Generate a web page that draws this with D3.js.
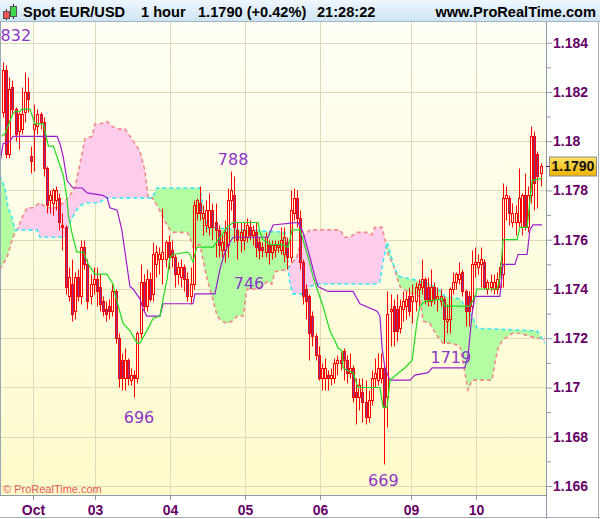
<!DOCTYPE html>
<html>
<head>
<meta charset="utf-8">
<script src="https://cdn.jsdelivr.net/npm/d3@7"></script>
<style>
html, body { margin: 0; padding: 0; background: #fff; }
svg { display: block; }
</style>
</head>
<body>
<svg id="chart" width="600" height="519"></svg>
<script>
// header texts
const titleParts = ['Spot EUR/USD', '1 hour', '1.1790 (+0.42%)', '21:28:22']
const siteName = 'www.ProRealTime.com'
const copyright = '\u00a9 ProRealTime.com'

// hourly candles, EUR/USD
const open = [1.1812,1.1829,1.1795,1.1822,1.1813,1.1804,1.1805,1.1812,1.1820,1.1794,
  1.1805,1.1806,1.1811,1.1808,1.1789,1.1776,1.1775,1.1776,1.1777,1.1766,
  1.1765,1.1737,1.1742,1.1731,1.1745,1.1737,1.1757,1.1750,1.1737,1.1742,
  1.1744,1.1741,1.1735,1.1732,1.1733,1.1731,1.1739,1.1720,1.1711,1.1704,
  1.1711,1.1703,1.1705,1.1704,1.1722,1.1743,1.1733,1.1744,1.1738,1.1750,
  1.1752,1.1752,1.1752,1.1759,1.1756,1.1753,1.1746,1.1745,1.1749,1.1744,
  1.1737,1.1742,1.1771,1.1775,1.1769,1.1766,1.1765,1.1772,1.1767,1.1764,
  1.1756,1.1756,1.1758,1.1776,1.1778,1.1764,1.1760,1.1760,1.1761,1.1765,
  1.1762,1.1763,1.1759,1.1757,1.1755,1.1758,1.1755,1.1756,1.1757,1.1756,
  1.1754,1.1759,1.1753,1.1771,1.1777,1.1769,1.1751,1.1740,1.1737,1.1729,
  1.1721,1.1713,1.1704,1.1704,1.1705,1.1704,1.1704,1.1710,1.1711,1.1715,
  1.1711,1.1706,1.1708,1.1698,1.1696,1.1698,1.1694,1.1688,1.1695,1.1704,
  1.1703,1.1704,1.1708,1.1696,1.1731,1.1733,1.1732,1.1724,1.1732,1.1733,
  1.1737,1.1735,1.1735,1.1740,1.1741,1.1744,1.1741,1.1735,1.1741,1.1736,
  1.1735,1.1736,1.1727,1.1728,1.1740,1.1743,1.1744,1.1747,1.1739,1.1737,
  1.1733,1.1750,1.1749,1.1750,1.1751,1.1740,1.1741,1.1740,1.1740,1.1741,
  1.1746,1.1777,1.1777,1.1767,1.1767,1.1767,1.1765,1.1778,1.1765,1.1778,
  1.1802,1.1795,1.1787]
const high = [1.1832,1.1831,1.1826,1.1825,1.1814,1.1812,1.1822,1.1828,1.1826,1.1798,
  1.1815,1.1813,1.1812,1.1810,1.1790,1.1780,1.1781,1.1782,1.1779,1.1771,
  1.1766,1.1749,1.1752,1.1747,1.1748,1.1760,1.1760,1.1752,1.1746,1.1749,
  1.1749,1.1746,1.1737,1.1735,1.1736,1.1742,1.1740,1.1722,1.1714,1.1716,
  1.1712,1.1708,1.1707,1.1723,1.1750,1.1746,1.1748,1.1747,1.1759,1.1758,
  1.1757,1.1773,1.1760,1.1762,1.1760,1.1754,1.1751,1.1752,1.1750,1.1747,
  1.1749,1.1776,1.1777,1.1782,1.1774,1.1776,1.1779,1.1775,1.1775,1.1766,
  1.1762,1.1768,1.1781,1.1788,1.1786,1.1767,1.1767,1.1767,1.1769,1.1768,
  1.1766,1.1767,1.1761,1.1759,1.1763,1.1760,1.1760,1.1760,1.1760,1.1765,
  1.1765,1.1761,1.1780,1.1781,1.1780,1.1772,1.1752,1.1742,1.1738,1.1731,
  1.1722,1.1717,1.1710,1.1712,1.1707,1.1708,1.1712,1.1713,1.1715,1.1716,
  1.1713,1.1714,1.1709,1.1704,1.1704,1.1704,1.1703,1.1699,1.1707,1.1712,
  1.1714,1.1714,1.1710,1.1739,1.1738,1.1736,1.1738,1.1736,1.1739,1.1739,
  1.1741,1.1742,1.1743,1.1744,1.1752,1.1745,1.1745,1.1748,1.1743,1.1741,
  1.1740,1.1737,1.1734,1.1741,1.1747,1.1747,1.1751,1.1748,1.1740,1.1739,
  1.1756,1.1757,1.1754,1.1757,1.1752,1.1744,1.1746,1.1746,1.1747,1.1751,
  1.1783,1.1782,1.1778,1.1775,1.1774,1.1789,1.1779,1.1787,1.1782,1.1806,
  1.1804,1.1796,1.1791]
const low = [1.1810,1.1793,1.1793,1.1811,1.1800,1.1797,1.1803,1.1808,1.1812,1.1787,
  1.1788,1.1803,1.1805,1.1786,1.1771,1.1771,1.1770,1.1772,1.1764,1.1756,
  1.1738,1.1735,1.1727,1.1728,1.1735,1.1734,1.1748,1.1732,1.1734,1.1738,
  1.1733,1.1731,1.1729,1.1727,1.1728,1.1729,1.1718,1.1700,1.1699,1.1699,
  1.1701,1.1701,1.1696,1.1702,1.1720,1.1731,1.1731,1.1735,1.1735,1.1745,
  1.1746,1.1742,1.1749,1.1748,1.1749,1.1741,1.1742,1.1741,1.1739,1.1735,
  1.1734,1.1740,1.1768,1.1768,1.1762,1.1763,1.1762,1.1760,1.1753,1.1753,
  1.1753,1.1751,1.1753,1.1772,1.1759,1.1752,1.1755,1.1756,1.1759,1.1760,
  1.1758,1.1753,1.1752,1.1753,1.1753,1.1750,1.1752,1.1753,1.1755,1.1754,
  1.1751,1.1748,1.1751,1.1768,1.1765,1.1748,1.1734,1.1728,1.1711,1.1717,
  1.1711,1.1703,1.1699,1.1699,1.1699,1.1701,1.1702,1.1705,1.1707,1.1703,
  1.1702,1.1704,1.1694,1.1685,1.1691,1.1686,1.1685,1.1686,1.1693,1.1700,
  1.1701,1.1702,1.1669,1.1684,1.1717,1.1717,1.1719,1.1722,1.1727,1.1728,
  1.1729,1.1726,1.1731,1.1733,1.1738,1.1734,1.1733,1.1733,1.1734,1.1731,
  1.1733,1.1718,1.1722,1.1722,1.1738,1.1740,1.1742,1.1737,1.1725,1.1725,
  1.1731,1.1745,1.1746,1.1741,1.1740,1.1738,1.1739,1.1738,1.1738,1.1739,
  1.1741,1.1768,1.1766,1.1765,1.1762,1.1765,1.1762,1.1764,1.1763,1.1775,
  1.1772,1.1773,1.1782]
const close = [1.1829,1.1795,1.1821,1.1813,1.1803,1.1811,1.1811,1.1820,1.1817,1.1792,
  1.1807,1.1811,1.1808,1.1789,1.1774,1.1778,1.1780,1.1780,1.1767,1.1765,
  1.1741,1.1745,1.1730,1.1745,1.1737,1.1757,1.1750,1.1735,1.1742,1.1744,
  1.1739,1.1734,1.1731,1.1730,1.1731,1.1739,1.1720,1.1704,1.1704,1.1711,
  1.1704,1.1705,1.1704,1.1722,1.1743,1.1733,1.1744,1.1736,1.1754,1.1755,
  1.1754,1.1755,1.1759,1.1753,1.1753,1.1746,1.1749,1.1749,1.1744,1.1737,
  1.1742,1.1774,1.1776,1.1771,1.1771,1.1772,1.1772,1.1765,1.1764,1.1758,
  1.1759,1.1763,1.1776,1.1780,1.1765,1.1760,1.1763,1.1764,1.1766,1.1762,
  1.1764,1.1757,1.1756,1.1756,1.1761,1.1755,1.1758,1.1758,1.1758,1.1760,
  1.1761,1.1753,1.1772,1.1777,1.1769,1.1751,1.1737,1.1735,1.1722,1.1721,
  1.1713,1.1704,1.1708,1.1708,1.1704,1.1705,1.1710,1.1711,1.1710,1.1711,
  1.1706,1.1708,1.1696,1.1696,1.1701,1.1694,1.1688,1.1695,1.1704,1.1706,
  1.1708,1.1708,1.1692,1.1730,1.1732,1.1723,1.1723,1.1733,1.1735,1.1736,
  1.1731,1.1737,1.1741,1.1742,1.1744,1.1736,1.1735,1.1741,1.1736,1.1737,
  1.1737,1.1728,1.1728,1.1740,1.1743,1.1746,1.1746,1.1739,1.1731,1.1731,
  1.1750,1.1751,1.1751,1.1752,1.1741,1.1743,1.1743,1.1743,1.1744,1.1749,
  1.1777,1.1778,1.1771,1.1771,1.1771,1.1777,1.1778,1.1765,1.1778,1.1802,
  1.1783,1.1786,1.1790]

// ichimoku lines: [candle index, price]
const tenkan = [[-0.4,1.1802],[0.6,1.1803],[3.1,1.1811],[3.8,1.1812],[5.4,1.1812],[6,1.1813],[8.6,1.1813],
  [10.2,1.1807],[12.9,1.1807],[14.5,1.1798],[16.1,1.1798],[17.7,1.1792],[19.3,1.1786],[20.4,1.1777],
  [20.9,1.1770],[22,1.1763],[23.6,1.1755],[25.7,1.1755],[27.3,1.1750],[29.4,1.1746],[33.2,1.1746],
  [35.2,1.1742],[35.8,1.1738],[38.4,1.1726],[40.6,1.1723],[42.9,1.1718],[43.8,1.1718],[46,1.1723],
  [48,1.1728],[50.2,1.1729],[51.2,1.1736],[52.5,1.1744],[53.4,1.1753],[54.4,1.1754],[58.9,1.1755],
  [59.8,1.1754],[60.8,1.1751],[62,1.1757],[67.2,1.1757],[69.4,1.1761],[71.7,1.1765],[73.6,1.1767],
  [81.6,1.1767],[82.2,1.1763],[83.2,1.1760],[85.4,1.1758],[89.3,1.1758],[91.2,1.1757],[92.5,1.1764],
  [95,1.1764],[96,1.1760],[97.6,1.1753],[99.2,1.1745],[100.5,1.1740],[102.4,1.1733],[104.6,1.1723],
  [106.2,1.1719],[107.2,1.1716],[108.5,1.1715],[108.8,1.1708],[110,1.1707],[112,1.1706],[113.6,1.1700],
  [120.6,1.1700],[121.6,1.1692],[122.9,1.1692],[123.8,1.1703],[128.6,1.1708],[130.9,1.1711],
  [132.5,1.1727],[133.4,1.1733],[135,1.1735],[140.5,1.1736],[141.4,1.1733],[149.4,1.1733],
  [151,1.1737],[151.7,1.1740],[158.1,1.1740],[159,1.1744],[160,1.1760],[164.5,1.1760],[165.4,1.1765],
  [167.7,1.1765],[169.3,1.1784],[172.5,1.1785]]
const kijun = [[-1,1.1791],[0,1.1799],[2.2,1.1800],[3.2,1.1802],[17.3,1.1802],[18.2,1.1799],[19.2,1.1794],
  [20.5,1.1784],[22.4,1.1781],[25.3,1.1781],[26.9,1.1779],[32,1.1778],[33.3,1.1777],[34.2,1.1773],
  [36.5,1.1772],[38,1.1764],[39.7,1.1749],[40.6,1.1741],[41.6,1.1740],[43.8,1.1736],[44.8,1.1732],
  [46,1.1729],[50.2,1.1729],[51.2,1.1734],[60.8,1.1734],[61.4,1.1738],[67.8,1.1738],[69.4,1.1748],
  [71,1.1755],[72.6,1.1759],[73.6,1.1761],[84.8,1.1761],[86.4,1.1766],[94.4,1.1767],[96,1.1763],
  [98.2,1.1753],[99.8,1.1745],[100.8,1.1741],[104,1.1739],[112,1.1739],[114.2,1.1734],[119.7,1.1731],
  [120.6,1.1729],[121.3,1.1716],[122.2,1.1708],[123.8,1.1703],[130.2,1.1703],[131.8,1.1705],
  [136,1.1706],[137.3,1.1708],[147.8,1.1708],[148.8,1.1713],[150.1,1.1730],[151,1.1737],[159,1.1737],
  [160,1.1750],[163.8,1.1750],[164.8,1.1754],[167.7,1.1754],[168.6,1.1764],[169.6,1.1766],[172.5,1.1766]]
const spanA = [[-1,1.1786],[0.6,1.1781],[1.6,1.1773],[2.9,1.1769],[3.8,1.1764],[10.9,1.1764],[11.8,1.1761],
  [19.8,1.1761],[20.8,1.1765],[22.1,1.1769],[24,1.1773],[26.2,1.1775],[31,1.1775],[32.6,1.1777],
  [47.7,1.1777],[49.3,1.1781],[63,1.1781],[64,1.1773],[65.3,1.1765],[90.2,1.1763],[91.2,1.1750],
  [91.8,1.1742],[92.8,1.1738],[96,1.1738],[98.2,1.1741],[100.5,1.1742],[119.7,1.1742],[120.6,1.1743],
  [121.6,1.1751],[122.9,1.1759],[124.5,1.1752],[125.4,1.1748],[127,1.1745],[130.9,1.1744],
  [133.4,1.1743],[136.6,1.1742],[139.2,1.1740],[141.4,1.1737],[146.2,1.1736],[147.8,1.1733],
  [150.1,1.1729],[151.7,1.1724],[170.9,1.1723],[173.4,1.1718]]
const spanB = [[-1,1.1748],[1.3,1.1753],[2.9,1.1760],[3.8,1.1763],[4.5,1.1764],[6.1,1.1769],[7.7,1.1773],
  [9.6,1.1773],[11.8,1.1775],[12.8,1.1774],[14.1,1.1773],[17.6,1.1773],[20.8,1.1777],[23,1.1781],
  [25.3,1.1795],[26.2,1.1801],[28.5,1.1802],[29.4,1.1807],[31,1.1807],[33.3,1.1808],[34.9,1.1806],
  [36.8,1.1805],[39,1.1805],[40.6,1.1802],[42.2,1.1799],[43.8,1.1796],[45.4,1.1788],[46.4,1.1777],
  [47.7,1.1777],[49.3,1.1774],[51.2,1.1769],[53.4,1.1764],[54.4,1.1763],[58.9,1.1763],[59.8,1.1761],
  [60.8,1.1757],[63,1.1758],[64,1.1752],[65.3,1.1744],[66.9,1.1737],[68.5,1.1729],[70,1.1727],
  [71.7,1.1726],[73.3,1.1727],[74.9,1.1729],[76.8,1.1729],[78,1.1740],[80.6,1.1740],[82.9,1.1741],
  [84.5,1.1743],[86,1.1742],[87,1.1747],[90.9,1.1748],[94,1.1753],[95.7,1.1761],[98.2,1.1764],
  [107.8,1.1764],[109.4,1.1761],[111,1.1761],[113.3,1.1763],[116.5,1.1763],[118,1.1762],[119,1.1765],
  [121.3,1.1765],[122.2,1.1760],[123.2,1.1754],[124.8,1.1750],[127,1.1741],[129.3,1.1739],
  [133.4,1.1737],[134.4,1.1727],[136.6,1.1726],[138.9,1.1721],[140.8,1.1718],[143,1.1718],
  [146.2,1.1717],[147.8,1.1706],[148.8,1.1699],[150.1,1.1703],[156.5,1.1703],[157.4,1.1710],
  [158.4,1.1716],[159.7,1.1719],[162.9,1.1722],[165.4,1.1722],[168,1.1721],[170.9,1.1720],[173.4,1.1720]]

// high / low annotations
const noteText = ['832', '788', '746', '696', '669', '1719']
const noteIdx = [4.1, 73.6, 78.7, 43.5, 121.7, 143.3]
const notePrice = [1.18407, 1.17903, 1.17400, 1.16856, 1.16600, 1.17099]

// axes
const dayIdx = [10, 30, 54, 78, 102, 131, 152]
const dayLabels = ['Oct', '03', '04', '05', '06', '09', '10']
const priceTicks = [1.166, 1.168, 1.170, 1.172, 1.174, 1.176, 1.178, 1.180, 1.182, 1.184]
const minorTicks = [1.167, 1.169, 1.171, 1.173, 1.175, 1.177, 1.179, 1.181, 1.183]

const W = 600, H = 519
const plot = {left: 1, right: 546, top: 22, bottom: 495}
const font = 'Arial, "Liberation Sans", sans-serif'
const axisColor = '#660066'
const noteColor = '#8c35c9'

const x = d3.scaleLinear().domain([0, 173]).range([1.5, 542.1])
const cx = i => x(i + 0.5)
const y = d3.scaleLinear().domain([1.166, 1.184]).range([486, 42.7])
const crisp = v => Math.round(v) + 0.5

const svg = d3.select('#chart')
const defs = svg.append('defs')

const bg = defs.append('linearGradient').attr('id', 'bg')
    .attr('x1', 0).attr('y1', 0).attr('x2', 0).attr('y2', 1)
bg.append('stop').attr('offset', '0%').attr('stop-color', '#fffff6')
bg.append('stop').attr('offset', '100%').attr('stop-color', '#fffbcb')

const hdr = defs.append('linearGradient').attr('id', 'hdr')
    .attr('x1', 0).attr('y1', 0).attr('x2', 0).attr('y2', 1)
hdr.append('stop').attr('offset', '0%').attr('stop-color', '#eef7fd')
hdr.append('stop').attr('offset', '100%').attr('stop-color', '#cfe5f4')

const gold = defs.append('linearGradient').attr('id', 'gold')
    .attr('x1', 0).attr('y1', 0).attr('x2', 0).attr('y2', 1)
gold.append('stop').attr('offset', '0%').attr('stop-color', '#ffe066')
gold.append('stop').attr('offset', '100%').attr('stop-color', '#eeb400')

defs.append('clipPath').attr('id', 'plotClip')
    .append('rect')
    .attr('x', plot.left).attr('y', plot.top)
    .attr('width', plot.right - plot.left).attr('height', plot.bottom - plot.top)

const areaAbove = d3.area().x(d => cx(d[0])).y0(0).y1(d => y(d[1]))
const areaBelow = d3.area().x(d => cx(d[0])).y0(H).y1(d => y(d[1]))
const line = d3.line().x(d => cx(d[0])).y(d => y(d[1]))

defs.append('clipPath').attr('id', 'aboveA').append('path').attr('d', areaAbove(spanA))
defs.append('clipPath').attr('id', 'aboveB').append('path').attr('d', areaAbove(spanB))

// backgrounds
svg.append('rect').attr('width', W).attr('height', H).attr('fill', '#ffffff')
svg.append('rect')
    .attr('x', plot.left).attr('y', plot.top)
    .attr('width', plot.right - plot.left).attr('height', plot.bottom - plot.top)
    .attr('fill', 'url(#bg)')

const g = svg.append('g').attr('clip-path', 'url(#plotClip)')

// grid
g.selectAll('.hgrid').data(priceTicks).join('line')
    .attr('x1', plot.left).attr('x2', plot.right)
    .attr('y1', d => crisp(y(d))).attr('y2', d => crisp(y(d)))
    .attr('stroke', '#dcdab8').attr('stroke-width', 1)
g.selectAll('.vgrid').data(dayIdx).join('line')
    .attr('x1', d => crisp(x(d))).attr('x2', d => crisp(x(d)))
    .attr('y1', plot.top).attr('y2', plot.bottom)
    .attr('stroke', '#dcdab8').attr('stroke-width', 1)

// cloud
g.append('path').attr('d', areaBelow(spanA)).attr('clip-path', 'url(#aboveB)')
    .attr('fill', '#b3fda2')
g.append('path').attr('d', areaBelow(spanB)).attr('clip-path', 'url(#aboveA)')
    .attr('fill', '#ffcdec')
g.append('path').attr('d', line(spanB)).attr('fill', 'none')
    .attr('stroke', '#f28a8a').attr('stroke-width', 1.6).attr('stroke-dasharray', '4,3')
g.append('path').attr('d', line(spanA)).attr('fill', 'none')
    .attr('stroke', '#3fe6f6').attr('stroke-width', 1.6).attr('stroke-dasharray', '4,3')

// candles
const candles = d3.range(open.length).map(i => ({i, o: open[i], h: high[i], l: low[i], c: close[i]}))
const cg = g.append('g')
candles.forEach(d => {
    const px = crisp(cx(d.i))
    const top = crisp(y(Math.max(d.o, d.c)))
    const bot = crisp(y(Math.min(d.o, d.c)))
    cg.append('line').attr('x1', px).attr('x2', px)
        .attr('y1', crisp(y(d.h))).attr('y2', top)
        .attr('stroke', '#ff0000')
    cg.append('line').attr('x1', px).attr('x2', px)
        .attr('y1', bot).attr('y2', crisp(y(d.l)))
        .attr('stroke', '#ff0000')
    cg.append('rect')
        .attr('x', px - 1).attr('width', 2)
        .attr('y', top).attr('height', Math.max(bot - top, 0))
        .attr('fill', d.c < d.o ? '#8e2f95' : 'none')
        .attr('stroke', '#ff0000').attr('stroke-width', 1)
})

// tenkan / kijun
g.append('path').attr('d', line(kijun)).attr('fill', 'none')
    .attr('stroke', '#9a1ccf').attr('stroke-width', 1.2)
g.append('path').attr('d', line(tenkan)).attr('fill', 'none')
    .attr('stroke', '#1fdc1f').attr('stroke-width', 1.2)

// annotations
g.selectAll('.note').data(noteText).join('text')
    .attr('x', (d, i) => cx(noteIdx[i]))
    .attr('y', (d, i) => y(notePrice[i]))
    .attr('text-anchor', 'middle')
    .attr('font-family', '"DejaVu Sans", Verdana, sans-serif')
    .attr('font-size', 16)
    .attr('fill', noteColor)
    .text(d => d)

g.append('text').attr('x', 3).attr('y', 493)
    .attr('font-family', font).attr('font-size', 11)
    .attr('fill', '#e25c5c').text(copyright)

// frame
svg.append('line').attr('x1', 0.5).attr('x2', 0.5).attr('y1', plot.top).attr('y2', plot.bottom)
    .attr('stroke', '#9aa8b6')
svg.append('line').attr('x1', plot.right + 0.5).attr('x2', plot.right + 0.5).attr('y1', plot.top).attr('y2', H)
    .attr('stroke', '#8d9aa8')
svg.append('line').attr('x1', 0).attr('x2', plot.right).attr('y1', plot.bottom + 0.5).attr('y2', plot.bottom + 0.5)
    .attr('stroke', '#8d9aa8')
svg.append('line').attr('x1', 0).attr('x2', W).attr('y1', H - 1.5).attr('y2', H - 1.5)
    .attr('stroke', '#a7b0ba')
svg.append('line').attr('x1', W - 1.5).attr('x2', W - 1.5).attr('y1', 0).attr('y2', H)
    .attr('stroke', '#a7b0ba')

// right price axis
const yAxis = svg.append('g').attr('transform', `translate(${plot.right},0)`)
    .call(d3.axisRight(y).tickValues(priceTicks).tickSize(6).tickPadding(1)
        .tickFormat(d => d3.format('.3f')(d).replace(/0+$/, '')))
yAxis.select('.domain').remove()
yAxis.selectAll('.tick line').attr('stroke', '#8d9aa8')
yAxis.selectAll('.tick text').attr('fill', axisColor)
    .attr('font-family', font).attr('font-size', 14).attr('font-weight', 'bold')
const yMinor = svg.append('g').attr('transform', `translate(${plot.right},0)`)
    .call(d3.axisRight(y).tickValues(minorTicks).tickSize(5).tickFormat(''))
yMinor.select('.domain').remove()
yMinor.selectAll('.tick line').attr('stroke', '#8d9aa8')

// last price box
const last = close[close.length - 1]
svg.append('line').attr('x1', plot.right).attr('x2', plot.right + 4)
    .attr('y1', crisp(y(last))).attr('y2', crisp(y(last)))
    .attr('stroke', axisColor)
svg.append('rect').attr('x', 549.5).attr('y', crisp(y(last)) - 9.5)
    .attr('width', 47).attr('height', 19)
    .attr('fill', 'url(#gold)').attr('stroke', '#8c8c8c')
svg.append('text').attr('x', 573).attr('y', y(last) + 5)
    .attr('text-anchor', 'middle')
    .attr('font-family', font).attr('font-size', 14).attr('font-weight', 'bold')
    .attr('fill', '#111').text(d3.format('.4f')(last))

// bottom date axis
const xAxis = svg.append('g').attr('transform', `translate(0,${plot.bottom})`)
    .call(d3.axisBottom(x).tickValues(dayIdx).tickSize(5).tickPadding(5)
        .tickFormat((d, i) => dayLabels[i]))
xAxis.select('.domain').remove()
xAxis.selectAll('.tick').attr('transform', d => `translate(${crisp(x(d))},0)`)
xAxis.selectAll('.tick line').attr('stroke', '#8d9aa8')
xAxis.selectAll('.tick text').attr('fill', axisColor)
    .attr('font-family', font).attr('font-size', 14).attr('font-weight', 'bold')

// header bar
svg.append('rect').attr('x', 0).attr('y', 0).attr('width', W).attr('height', 21)
    .attr('fill', 'url(#hdr)')
svg.append('line').attr('x1', 0).attr('x2', W).attr('y1', 21.5).attr('y2', 21.5)
    .attr('stroke', '#9fb4c4')

const icon = svg.append('g')
icon.append('line').attr('x1', 6.5).attr('x2', 6.5).attr('y1', 9).attr('y2', 20).attr('stroke', '#333')
icon.append('rect').attr('x', 3.5).attr('y', 11.5).attr('width', 6).attr('height', 7)
    .attr('fill', '#f05050').attr('stroke', '#555')
icon.append('line').attr('x1', 13.5).attr('x2', 13.5).attr('y1', 4).attr('y2', 19).attr('stroke', '#333')
icon.append('rect').attr('x', 10.5).attr('y', 6.5).attr('width', 6).attr('height', 10)
    .attr('fill', '#3fd84a').attr('stroke', '#555')

const titleX = [23, 141, 198, 317]
svg.selectAll('.title').data(titleParts).join('text')
    .attr('x', (d, i) => titleX[i]).attr('y', 16.5)
    .attr('font-family', font).attr('font-size', 14.6).attr('font-weight', 'bold')
    .attr('fill', '#000').text(d => d)
svg.append('text').attr('x', 596).attr('y', 16.5).attr('text-anchor', 'end')
    .attr('font-family', font).attr('font-size', 14.6).attr('font-weight', 'bold')
    .attr('fill', '#000').text(siteName)
</script>
</body>
</html>
